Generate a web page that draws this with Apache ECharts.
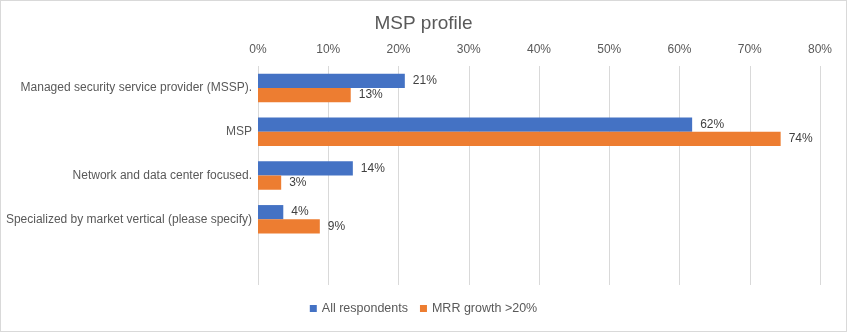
<!DOCTYPE html>
<html><head><meta charset="utf-8">
<script src="https://cdn.jsdelivr.net/npm/echarts@6/dist/echarts.min.js"></script>
<style>html,body{margin:0;padding:0;background:#fff}#c{width:845px;height:330px;border:1px solid #d9d9d9;}</style>
</head><body><div id="c"></div>
<script>
const categories = ['Managed security service provider (MSSP).', 'MSP', 'Network and data center focused.', 'Specialized by market vertical (please specify)', ''];
const allRespondents = [20.9, 61.8, 13.5, 3.6, null];
const mrrGrowth = [13.2, 74.4, 3.3, 8.8, null];
const xTicks = [0, 10, 20, 30, 40, 50, 60, 70, 80];
const seriesNames = ['All respondents', 'MRR growth >20%'];

const font = 'Liberation Sans, Arial, Helvetica, sans-serif';
const chart = echarts.init(document.getElementById('c'));
const lbl = {show: true, position: 'right', distance: 8, color: '#404040', fontSize: 12, fontFamily: font,
  formatter: p => Math.round(p.value) + '%'};
chart.setOption({
  animation: false,
  title: {text: 'MSP profile', left: 'center', top: 8, textStyle: {fontSize: 19, fontWeight: 'normal', color: '#595959', fontFamily: font}},
  legend: {bottom: 11, left: 'center', itemWidth: 7, itemHeight: 7, itemGap: 12, icon: 'rect',
    textStyle: {color: '#595959', fontSize: 12.5, fontFamily: font}, data: seriesNames},
  grid: {left: 257, right: 26, top: 65, bottom: 46, containLabel: false, outerBoundsMode: 'none'},
  xAxis: {type: 'value', position: 'top', min: xTicks[0], max: xTicks[xTicks.length - 1], interval: 10,
    axisLabel: {formatter: '{value}%', color: '#595959', fontSize: 12, fontFamily: font, margin: 10},
    axisLine: {show: false}, axisTick: {show: false},
    splitLine: {lineStyle: {color: '#d9d9d9'}}},
  yAxis: {type: 'category', inverse: true, data: categories,
    axisLine: {show: false}, axisTick: {show: false},
    axisLabel: {color: '#595959', fontSize: 12, fontFamily: font, margin: 6}},
  series: [
    {name: seriesNames[0], type: 'bar', data: allRespondents, itemStyle: {color: '#4472c4'}, barGap: '0%', barCategoryGap: '35%', label: lbl},
    {name: seriesNames[1], type: 'bar', data: mrrGrowth, itemStyle: {color: '#ed7d31'}, label: lbl}
  ]
});
</script></body></html>
